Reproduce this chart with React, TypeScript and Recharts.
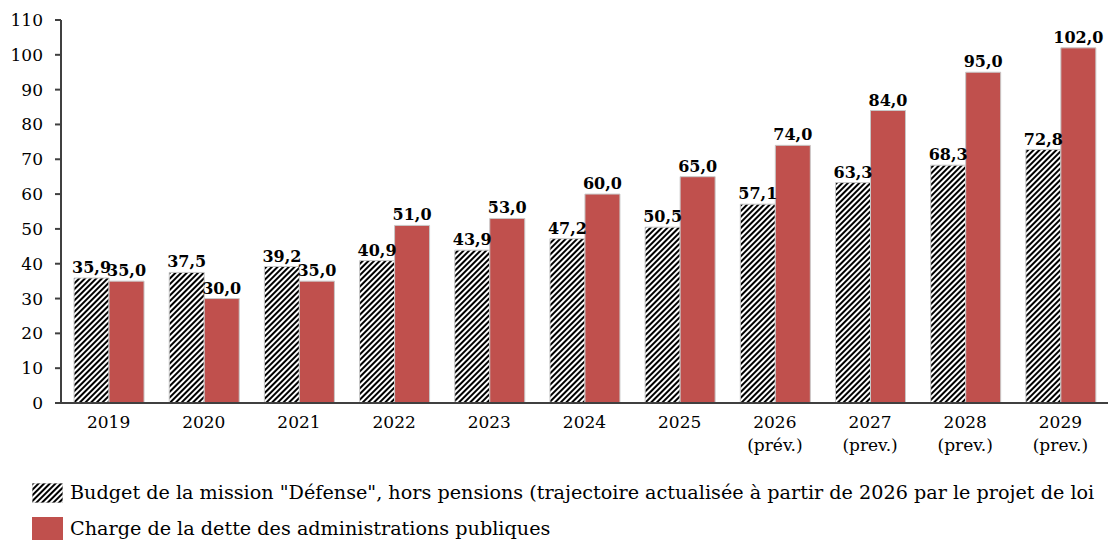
import React from 'react';
import { BarChart, Bar, XAxis, YAxis, LabelList } from 'recharts';

const years = ['2019', '2020', '2021', '2022', '2023', '2024', '2025', '2026', '2027', '2028', '2029'];
const yearNotes = ['', '', '', '', '', '', '', '(prév.)', '(prev.)', '(prev.)', '(prev.)'];
const defenseBudget = [35.9, 37.5, 39.2, 40.9, 43.9, 47.2, 50.5, 57.1, 63.3, 68.3, 72.8];
const debtCharge = [35.0, 30.0, 35.0, 51.0, 53.0, 60.0, 65.0, 74.0, 84.0, 95.0, 102.0];
const yTicks = [0, 10, 20, 30, 40, 50, 60, 70, 80, 90, 100, 110];

const seriesNames = [
  'Budget de la mission "Défense", hors pensions (trajectoire actualisée à partir de 2026 par le projet de loi',
  'Charge de la dette des administrations publiques',
];

const data = years.map((y, i) => ({
  year: y,
  note: yearNotes[i],
  defense: defenseBudget[i],
  debt: debtCharge[i],
}));

const FONT = '"DejaVu Serif", serif';
const RED = '#C0504D';

const fmt = (v: any) => Number(v).toFixed(1).replace('.', ',');

// tick a deux lignes pour les annees de prevision
const YearTick = (props: any) => {
  const { x, y, index } = props;
  const note = yearNotes[index];
  return (
    <text x={x} y={y} textAnchor="middle" fontFamily={FONT} fontSize={17} fill="#000">
      <tspan x={x} dy={25}>{years[index]}</tspan>
      {note ? <tspan x={x} dy={23}>{note}</tspan> : null}
    </text>
  );
};

const Hatch = ({ id }: { id: string }) => (
  <pattern id={id} patternUnits="userSpaceOnUse" width="4" height="4" patternTransform="rotate(45)">
    <rect width="4" height="4" fill="#fff" />
    <rect width="2" height="4" fill="#000" />
  </pattern>
);

export default function App() {
  return (
    <div style={{ position: 'absolute', left: 0, top: 0, width: 1108, height: 542, overflow: 'hidden', background: '#fff' }}>
      <BarChart
        width={1108}
        height={542}
        data={data}
        margin={{ top: 20, right: 0, bottom: 109, left: 0 }}
        barCategoryGap="13.7%"
        barGap={0}
      >
        <defs>
          <Hatch id="hatch" />
        </defs>
        <XAxis
          dataKey="year"
          height={30}
          interval={0}
          tickLine={false}
          tickSize={0}
          tickMargin={0}
          axisLine={{ stroke: '#404040', strokeWidth: 2 }}
          tick={<YearTick />}
        />
        <YAxis
          width={61}
          domain={[0, 110]}
          ticks={yTicks}
          interval={0}
          tickSize={6}
          tickMargin={12}
          axisLine={{ stroke: '#404040', strokeWidth: 2 }}
          tickLine={{ stroke: '#404040', strokeWidth: 2 }}
          tick={{ fontFamily: FONT, fontSize: 17, fill: '#000' }}
        />
        <Bar dataKey="defense" fill="url(#hatch)" stroke="#c8c8c8" strokeWidth={1} isAnimationActive={false}>
          <LabelList dataKey="defense" position="top" offset={5} formatter={fmt}
            style={{ fontFamily: FONT, fontSize: 16, fontWeight: 'bold', fill: '#000' }} />
        </Bar>
        <Bar dataKey="debt" fill={RED} stroke="#c8c8c8" strokeWidth={1} isAnimationActive={false}>
          <LabelList dataKey="debt" position="top" offset={5} formatter={fmt}
            style={{ fontFamily: FONT, fontSize: 16, fontWeight: 'bold', fill: '#000' }} />
        </Bar>
      </BarChart>

      {/* legende */}
      <div style={{ position: 'absolute', left: 32, top: 482, fontFamily: FONT, fontSize: 19.2, color: '#000', whiteSpace: 'nowrap' }}>
        <div style={{ display: 'flex', alignItems: 'center', height: 21, marginBottom: 14 }}>
          <svg width={31} height={20} style={{ marginRight: 7 }}>
            <defs><Hatch id="hatchLegend" /></defs>
            <rect width={31} height={20} fill="url(#hatchLegend)" stroke="#c8c8c8" />
          </svg>
          <span>{seriesNames[0]}</span>
        </div>
        <div style={{ display: 'flex', alignItems: 'center', height: 23 }}>
          <svg width={31} height={23} style={{ marginRight: 7 }}>
            <rect width={31} height={23} fill={RED} />
          </svg>
          <span>{seriesNames[1]}</span>
        </div>
      </div>
    </div>
  );
}
